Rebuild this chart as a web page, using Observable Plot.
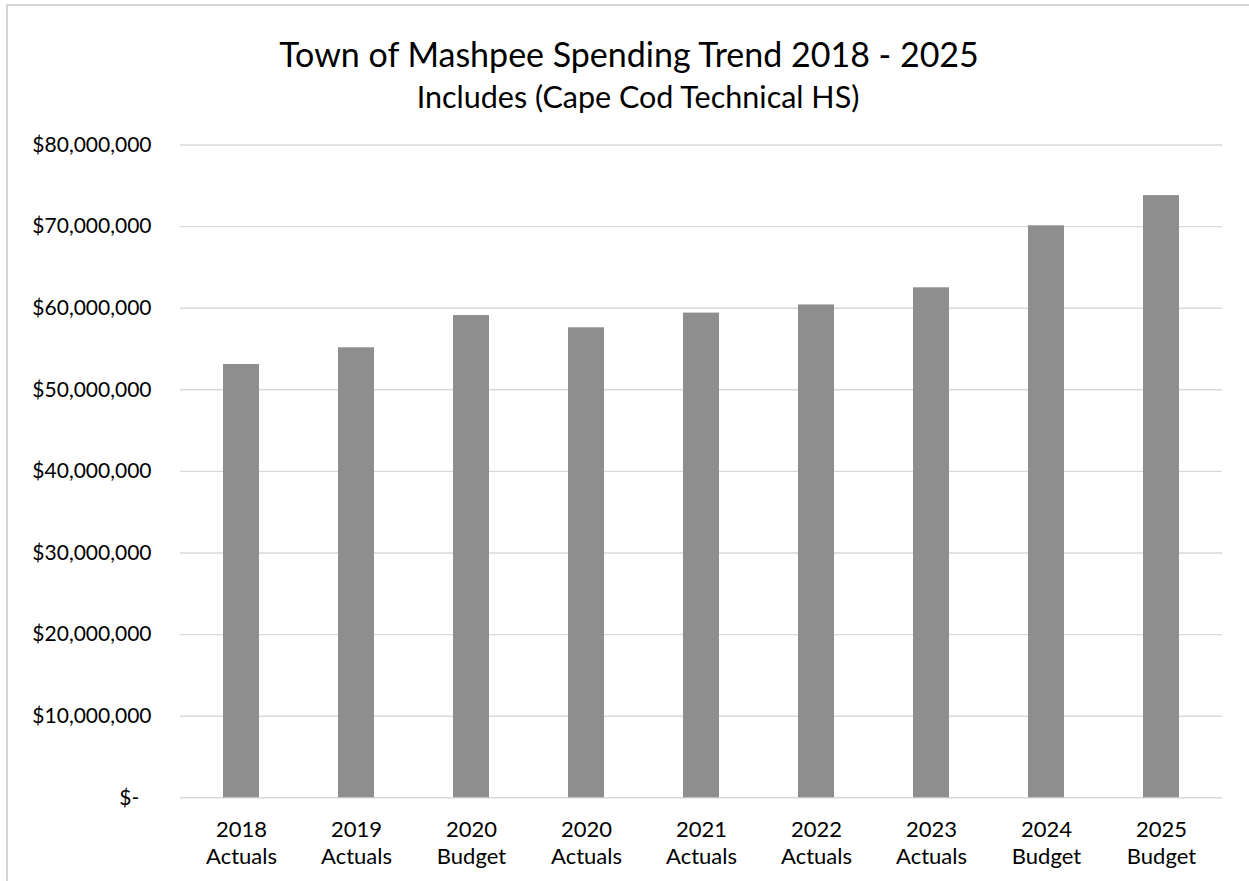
<!DOCTYPE html>
<html>
<head>
<meta charset="utf-8">
<script src="https://cdn.jsdelivr.net/npm/d3@7"></script>
<script src="https://cdn.jsdelivr.net/npm/@observablehq/plot@0.6"></script>
<style>
  html, body { margin: 0; padding: 0; background: #fff; }
  body { width: 1249px; height: 881px; position: relative; overflow: hidden; font-family: Lato, sans-serif; }
  #topline { position: absolute; left: 7px; top: 4px; width: 1242px; height: 2px; background: #d4d4d4; }
  #leftline { position: absolute; left: 6px; top: 4px; width: 2px; height: 877px; background: #d4d4d4; }
  #title { position: absolute; top: 33px; left: 629px; transform: translateX(-50%); white-space: nowrap; font-size: 34px; color: #000; }
  #subtitle { position: absolute; top: 78px; left: 638px; transform: translateX(-50%); white-space: nowrap; font-size: 30.5px; color: #000; }
  #chart { position: absolute; left: 0; top: 120px; }
</style>
</head>
<body>
<div id="topline"></div>
<div id="leftline"></div>
<div id="title">Town of Mashpee Spending Trend 2018 - 2025</div>
<div id="subtitle">Includes (Cape Cod Technical HS)</div>
<div id="chart"></div>
<script>
const categories = ["2018\nActuals", "2019\nActuals", "2020\nBudget", "2020\nActuals", "2021\nActuals", "2022\nActuals", "2023\nActuals", "2024\nBudget", "2025\nBudget"];
const spending = [53100000, 55150000, 59100000, 57600000, 59400000, 60400000, 62500000, 70100000, 73800000];
const yTicks = [0, 10000000, 20000000, 30000000, 40000000, 50000000, 60000000, 70000000, 80000000];

const data = categories.map((c, i) => ({category: c, value: spending[i]}));
const fmt = v => v === 0 ? "$-\u2007" : "$" + d3.format(",")(v);

const chart = Plot.plot({
  width: 1249,
  height: 761,
  marginTop: 24.5,
  marginBottom: 83.7,
  marginLeft: 180,
  marginRight: 27,
  style: {fontFamily: "Lato, sans-serif", fontSize: "21px", color: "#000", background: "transparent"},
  x: {domain: categories, paddingInner: 0.69, paddingOuter: 0.345, label: null},
  y: {domain: [0, 80000000], label: null},
  marks: [
    Plot.gridY(yTicks, {stroke: "#d9d9d9", strokeOpacity: 1, strokeWidth: 1.4}),
    Plot.barY(data, {x: "category", y: "value", fill: "#8e8e8e"}),
    Plot.axisY(yTicks, {tickSize: 0, tickPadding: 29, tickFormat: fmt, label: null}),
    Plot.axisX({tickSize: 0, tickPadding: 20.5, lineHeight: 1.22, fontSize: 22, label: null})
  ]
});
document.getElementById("chart").appendChild(chart);
</script>
</body>
</html>
